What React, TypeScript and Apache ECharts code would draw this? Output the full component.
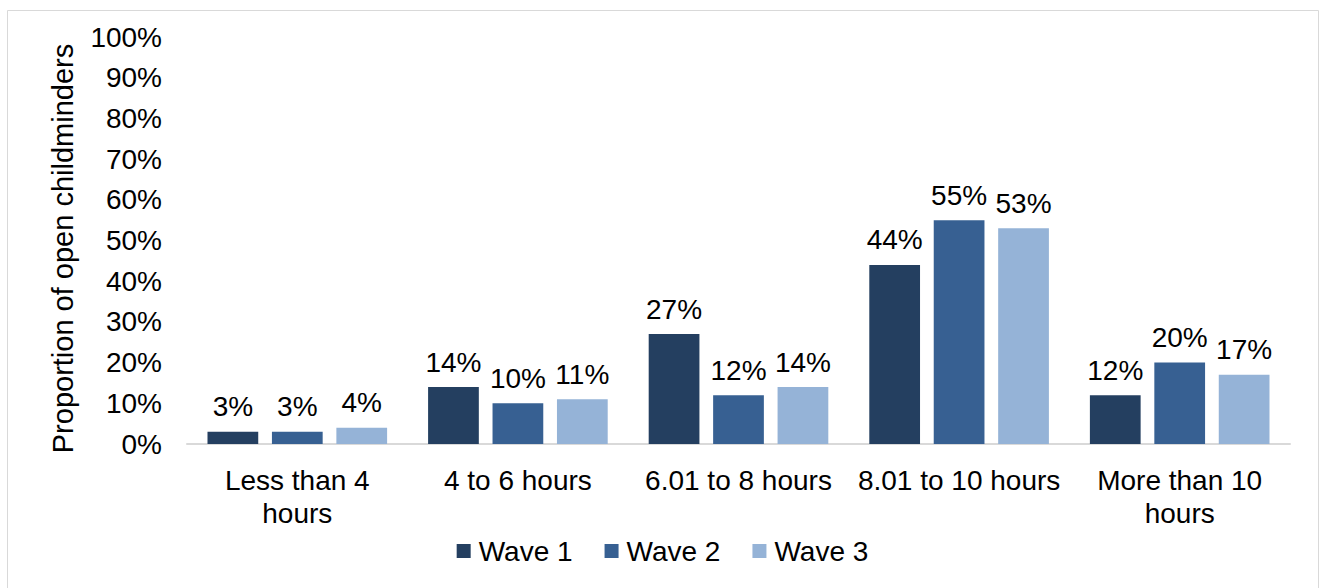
import React, { useEffect, useRef } from "react";
import * as echarts from "echarts";

const categories = [
  "Less than 4\nhours",
  "4 to 6 hours",
  "6.01 to 8 hours",
  "8.01 to 10 hours",
  "More than 10\nhours",
];
const wave1 = [3, 14, 27, 44, 12];
const wave2 = [3, 10, 12, 55, 20];
const wave3 = [4, 11, 14, 53, 17];
const seriesNames = ["Wave 1", "Wave 2", "Wave 3"];
const colors = ["#243F60", "#376092", "#95B3D7"];

const FONT = "Liberation Sans, Arial, sans-serif";
const FS = 28;

export default function App() {
  const ref = useRef<HTMLDivElement>(null);
  useEffect(() => {
    if (!ref.current) return;
    const chart = echarts.init(ref.current, null, { renderer: "svg" });
    const data = [wave1, wave2, wave3];
    chart.setOption({
      animation: false,
      backgroundColor: "#ffffff",
      textStyle: { fontFamily: FONT },
      graphic: [
        {
          type: "rect",
          shape: { x: 7.5, y: 10.5, width: 1311, height: 590 },
          style: { fill: "none", stroke: "#d9d9d9", lineWidth: 1 },
          silent: true,
        },
      ],
      grid: { left: 187, right: 35, top: 37, bottom: 144, containLabel: false },
      legend: {
        bottom: 18,
        left: "center",
        itemWidth: 14,
        itemHeight: 14,
        itemGap: 32,
        icon: "rect",
        textStyle: { fontSize: FS, color: "#000", fontFamily: FONT, padding: [0, 0, 0, 3] },
        data: seriesNames,
      },
      xAxis: {
        type: "category",
        data: categories,
        axisLine: { lineStyle: { color: "#d9d9d9", width: 2 } },
        axisTick: { show: false },
        axisLabel: {
          color: "#000",
          fontSize: FS,
          lineHeight: 33,
          margin: 20,
          fontFamily: FONT,
          interval: 0,
        },
      },
      yAxis: {
        type: "value",
        min: 0,
        max: 100,
        interval: 10,
        name: "Proportion of open childminders",
        nameLocation: "middle",
        nameGap: 110,
        nameTextStyle: {
          fontSize: 29,
          color: "#000",
          fontFamily: FONT,
          padding: [0, 16, 0, 0],
        },
        axisLine: { show: false },
        axisTick: { show: false },
        splitLine: { show: false },
        axisLabel: {
          color: "#000",
          fontSize: FS,
          margin: 25,
          fontFamily: FONT,
          formatter: "{value}%",
        },
      },
      series: seriesNames.map((name, i) => ({
        name,
        type: "bar",
        data: data[i],
        barWidth: "23%",
        barGap: "27%",
        itemStyle: { color: colors[i] },
        label: {
          show: true,
          position: "top",
          distance: 11,
          formatter: "{c}%",
          fontSize: FS,
          color: "#000",
          fontFamily: FONT,
        },
      })),
    });
    return () => chart.dispose();
  }, []);
  return (
    <div
      ref={ref}
      style={{ position: "fixed", left: 0, top: 0, width: 1325, height: 588 }}
    />
  );
}
